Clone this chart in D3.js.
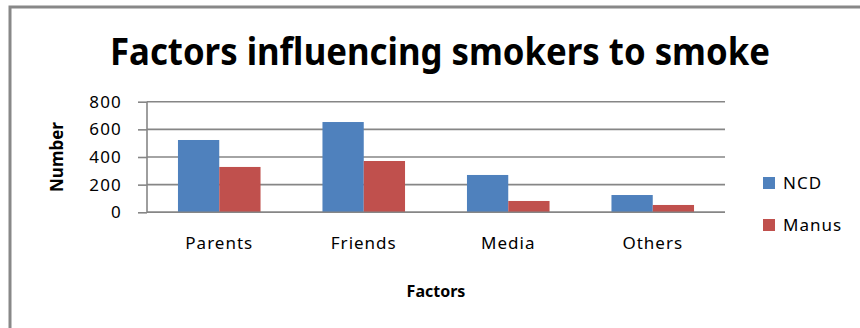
<!DOCTYPE html>
<html><head><meta charset="utf-8">
<script src="https://cdn.jsdelivr.net/npm/d3@7"></script>
<style>html,body{margin:0;padding:0;background:#fff;}svg{display:block;}</style>
</head><body>
<svg id="chart" width="860" height="328"></svg>
<script>
const categories = ["Parents", "Friends", "Media", "Others"];
const seriesNames = ["NCD", "Manus"];
const ncdValues = [523, 653, 270, 125];
const manusValues = [328, 371, 82, 53];
const yTicks = [0, 200, 400, 600, 800];
const colors = ["#4F81BD", "#C0504D"];
const titleText = "Factors influencing smokers to smoke";
const xTitle = "Factors";
const yTitle = "Number";

const svg = d3.select("#chart");
const font = "'Noto Sans', 'Open Sans', sans-serif";

// outer frame
svg.append("path").attr("d", "M10,328 V7 H860").attr("fill", "none").attr("stroke", "#888").attr("stroke-width", 3);

const plot = {left: 147, right: 725, top: 101.7, bottom: 212.3};
const x = d3.scaleBand().domain(categories).range([plot.left, plot.right]).paddingInner(0).paddingOuter(0);
const bw = x.bandwidth() / 3.5;
const xs = d3.scaleBand().domain(seriesNames).range([0, 2 * bw]);
const y = d3.scaleLinear().domain([0, 800]).range([plot.bottom, plot.top]);

// gridlines
svg.append("g").selectAll("line").data(yTicks).join("line")
  .attr("x1", plot.left).attr("x2", plot.right)
  .attr("y1", d => y(d)).attr("y2", d => y(d))
  .attr("stroke", "#868686").attr("stroke-width", 1.6);

// y axis
const yAxis = svg.append("g").attr("transform", `translate(${plot.left},0)`)
  .call(d3.axisLeft(y).tickValues(yTicks).tickSize(9).tickPadding(16).tickFormat(d3.format("d")));
yAxis.select(".domain").attr("stroke", "#868686").attr("stroke-width", 1.6).attr("d", `M0,${plot.top}V${plot.bottom}`);
yAxis.selectAll(".tick line").attr("stroke", "#868686").attr("stroke-width", 1.6);
yAxis.selectAll(".tick text").attr("font-family", font).attr("font-size", 17).attr("fill", "#000").attr("letter-spacing", 1.2);

// bars
const series = [ncdValues, manusValues];
series.forEach((vals, si) => {
  svg.append("g").selectAll("rect").data(categories).join("rect")
    .attr("x", (c) => x(c) + (x.bandwidth() - 2 * bw) / 2 + xs(seriesNames[si]))
    .attr("width", bw)
    .attr("y", (c, i) => y(vals[i]))
    .attr("height", (c, i) => y(0) - y(vals[i]))
    .attr("fill", colors[si]);
});

// x axis line on top of bars
svg.append("line").attr("x1", plot.left).attr("x2", plot.right)
  .attr("y1", y(0)).attr("y2", y(0)).attr("stroke", "#868686").attr("stroke-width", 1.6);

// x labels
const xAxis = svg.append("g").attr("transform", `translate(0,${plot.bottom})`)
  .call(d3.axisBottom(x).tickSize(0).tickPadding(25));
xAxis.select(".domain").remove();
xAxis.selectAll(".tick text").attr("font-family", font).attr("font-size", 17).attr("fill", "#000").attr("letter-spacing", 1);

// title
svg.append("text").attr("x", 440).attr("y", 65).attr("text-anchor", "middle")
  .attr("font-family", font).attr("font-weight", "bold").attr("font-size", 37)
  .attr("textLength", 660).attr("lengthAdjust", "spacingAndGlyphs")
  .text(titleText);

// axis titles
svg.append("text").attr("x", 436).attr("y", 297).attr("text-anchor", "middle")
  .attr("font-family", font).attr("font-weight", "bold").attr("font-size", 16).text(xTitle);
svg.append("text").attr("transform", "translate(63,157) rotate(-90)").attr("text-anchor", "middle")
  .attr("font-family", font).attr("font-weight", "bold").attr("font-size", 17).text(yTitle);

// legend
const leg = svg.append("g");
seriesNames.forEach((n, i) => {
  const ly = 183 + i * 42;
  leg.append("rect").attr("x", 763).attr("y", ly - 6).attr("width", 12).attr("height", 12).attr("fill", colors[i]);
  leg.append("text").attr("x", 783).attr("y", ly + 6).attr("font-family", font).attr("font-size", 17)
    .attr("letter-spacing", 1).text(n);
});
</script>
</body></html>
